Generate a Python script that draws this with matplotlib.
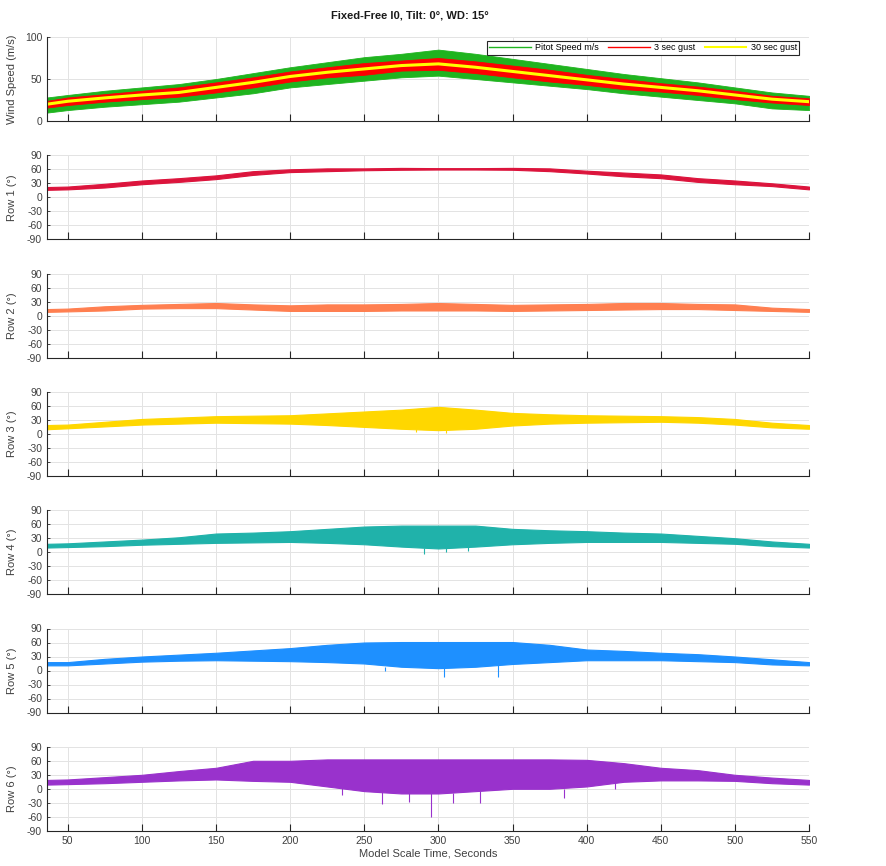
import matplotlib
matplotlib.use("Agg")
import matplotlib.pyplot as plt

plt.rcParams["font.family"] = ["Liberation Sans", "DejaVu Sans"]
plt.rcParams["axes.unicode_minus"] = False

t = [36, 50, 75, 100, 125, 150, 175, 200, 225, 250, 275, 300,
     325, 350, 375, 400, 425, 450, 475, 500, 525, 550]

# wind speed panel (m/s)
gust30 = [20, 23.5, 27.5, 31, 34, 40, 46, 53, 58, 62, 66, 68,
          64, 59, 54, 49, 44, 40, 36, 31, 26, 23]
pitot_hi = [28, 31, 36, 40, 44, 50, 57, 64, 70, 76, 80, 85,
            80, 74, 68, 62, 56, 51, 46, 40, 34, 30]
pitot_lo = [10, 13, 17, 20, 23, 28, 33, 40, 44, 48, 52, 54,
            50, 46, 42, 38, 33, 29, 25, 21, 15, 13]
gust3_hi = [24, 28, 32, 36, 40, 46, 52, 59, 64, 69, 72, 75,
            71, 66, 61, 55, 50, 45, 41, 36, 30, 27]
gust3_lo = [16, 19, 23, 26, 29, 34, 40, 47, 52, 55, 60, 61,
            57, 52, 47, 43, 38, 35, 31, 26, 22, 19]

# row tilt angles (deg): upper / lower envelope
row1_hi = [22, 23, 29, 36, 41, 47, 56, 60, 62, 62, 63, 62.5,
           62.5, 63, 62, 57, 53, 49, 41, 36, 30, 23]
row1_lo = [16, 17, 21, 28, 33, 39, 48, 54, 56, 58, 59, 59.5,
           59.5, 59, 56, 51, 45, 41, 33, 28, 24, 17]
row2_hi = [14, 15, 20, 23, 25, 27, 24, 22, 24, 24, 25, 27,
           25, 23, 24, 25, 27, 27, 25, 24, 17, 14]
row2_lo = [8, 9, 11, 15, 16, 16, 13, 10, 10, 10, 11, 11,
           11, 10, 11, 12, 13, 14, 14, 12, 10, 8]
row3_hi = [19, 20, 26, 32, 35, 38, 39, 40, 44, 48, 52, 58,
           52, 45, 42, 40, 39, 38, 36, 32, 24, 19]
row3_lo = [10, 12, 16, 20, 22, 24, 23, 22, 19, 15, 11, 8,
           11, 18, 22, 24, 25, 26, 24, 20, 14, 11]
row4_hi = [18, 19, 23, 27, 32, 40, 42, 45, 50, 55, 57, 57,
           57, 50, 47, 45, 42, 40, 35, 30, 23, 18]
row4_lo = [10, 11, 13, 16, 18, 20, 21, 22, 20, 17, 12, 8,
           12, 17, 20, 22, 22, 22, 20, 18, 13, 10]
row5_hi = [18, 18, 25, 30, 34, 38, 43, 48, 55, 60, 61, 61,
           61, 61, 55, 45, 42, 38, 35, 30, 24, 18]
row5_lo = [11, 11, 15, 19, 21, 22, 21, 20, 18, 15, 8, 5,
           8, 14, 18, 22, 22, 22, 20, 18, 13, 11]
row6_hi = [19, 20, 25, 30, 38, 45, 60, 60, 63, 63, 63, 63,
           63, 63, 63, 62, 55, 45, 40, 30, 24, 19]
row6_lo = [9, 10, 12, 15, 18, 20, 17, 15, 5, -5, -10, -10,
           -5, 0, 0, 5, 15, 18, 18, 17, 12, 9]

# isolated downward spikes (time, lowest value)
row3_spk_t = [285, 305]
row3_spk_v = [4, 3]
row4_spk_t = [290, 305, 320]
row4_spk_v = [-3, 0, 2]
row5_spk_t = [264, 304, 340]
row5_spk_v = [0, -14, -14]
row6_spk_t = [235, 262, 280, 295, 310, 328, 385, 419]
row6_spk_v = [-13, -32, -28, -60, -30, -30, -20, 0]

rows = [
    ("Row 1 (°)", row1_hi, row1_lo, "#dc143c", [], []),
    ("Row 2 (°)", row2_hi, row2_lo, "#ff7f50", [], []),
    ("Row 3 (°)", row3_hi, row3_lo, "#ffd700", row3_spk_t, row3_spk_v),
    ("Row 4 (°)", row4_hi, row4_lo, "#20b2aa", row4_spk_t, row4_spk_v),
    ("Row 5 (°)", row5_hi, row5_lo, "#1e90ff", row5_spk_t, row5_spk_v),
    ("Row 6 (°)", row6_hi, row6_lo, "#9932cc", row6_spk_t, row6_spk_v),
]

W, H = 887, 866
fig = plt.figure(figsize=(W / 100, H / 100), dpi=100)

left = 47 / W
width = 762 / W
axh = 84 / H
axes = []
for i in range(7):
    top = 37 + 118.3 * i
    ax = fig.add_axes([left, 1 - (top + 84) / H, width, axh])
    axes.append(ax)


def style(ax):
    ax.set_xlim(36, 550)
    ax.set_xticks(range(50, 551, 50))
    ax.grid(True, color="#e3e3e3", lw=0.7)
    ax.set_axisbelow(True)
    for s in ["top", "right"]:
        ax.spines[s].set_visible(False)
    for s in ["left", "bottom"]:
        ax.spines[s].set_color("#262626")
        ax.spines[s].set_linewidth(0.8)
    ax.tick_params(axis="x", direction="in", length=5, width=0.8,
                   colors="#262626", labelcolor="#404040", labelsize=7.5)
    ax.tick_params(axis="y", direction="in", length=2.5, width=0.6,
                   colors="#262626", labelcolor="#404040", labelsize=7.5)
    ax.yaxis.set_label_coords(-0.039, 0.5)


# wind panel
ax = axes[0]
ax.fill_between(t, pitot_lo, pitot_hi, color="#1fb41f", lw=0.6)
ax.fill_between(t, gust3_lo, gust3_hi, color="#ff0000", lw=0.6)
ax.plot(t, gust30, color="#ffff00", lw=2.2)
ax.set_ylim(0, 100)
ax.set_yticks([0, 50, 100])
ax.set_ylabel("Wind Speed (m/s)", fontsize=8, color="#404040")
style(ax)
h1 = plt.Line2D([], [], color="#1fb41f", lw=1)
h2 = plt.Line2D([], [], color="#ff0000", lw=1)
h3 = plt.Line2D([], [], color="#ffff00", lw=1.5)
leg = ax.legend([h1, h2, h3], ["Pitot Speed m/s", "3 sec gust", "30 sec gust"],
                ncol=3, loc="upper right", bbox_to_anchor=(0.987, 0.95),
                fontsize=6.5, frameon=True, fancybox=False, framealpha=1,
                edgecolor="#262626", handlelength=4.6, columnspacing=1.0,
                borderpad=0.25, handletextpad=0.5, borderaxespad=0)
leg.get_frame().set_linewidth(0.8)

# row panels
for ax, (label, hi, lo, col, spk_t, spk_v) in zip(axes[1:], rows):
    ax.fill_between(t, lo, hi, color=col, lw=0.8, edgecolor=col)
    if spk_t:
        ax.vlines(spk_t, spk_v, [lo[t.index(min(t, key=lambda k: abs(k - s)))] for s in spk_t],
                  color=col, lw=0.8)
    ax.set_ylim(-90, 90)
    ax.set_yticks(range(-90, 91, 30))
    ax.set_ylabel(label, fontsize=8, color="#404040")
    style(ax)

for ax in axes[:-1]:
    ax.tick_params(axis="x", labelbottom=False)
axes[-1].set_xlabel("Model Scale Time, Seconds", fontsize=8, color="#404040", labelpad=2)

fig.text(410 / W, 1 - 16 / H, "Fixed-Free I0, Tilt: 0°, WD: 15°", ha="center",
         va="center", fontsize=8, fontweight="bold", color="#1a1a1a")

fig.savefig("out.png", dpi=100, facecolor="white")
